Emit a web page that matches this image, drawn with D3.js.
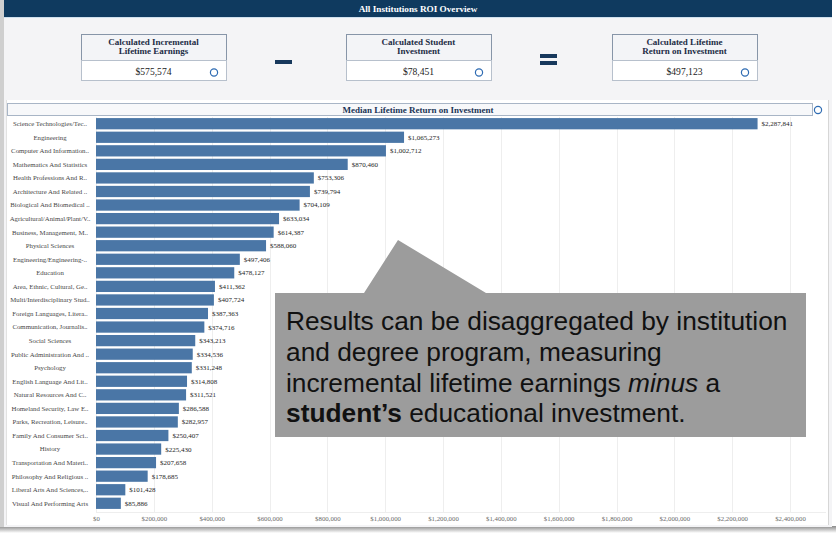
<!DOCTYPE html>
<html>
<head>
<meta charset="utf-8">
<script src="https://cdn.jsdelivr.net/npm/d3@7"></script>
<style>
  html, body { margin: 0; padding: 0; background: #ffffff; }
  svg { display: block; }
</style>
</head>
<body>
<svg id="chart" width="836" height="533"></svg>
<script>
// Programs ranked by median lifetime return on investment
const categories = [
  "Science Technologies/Tec..", "Engineering", "Computer And Information..",
  "Mathematics And Statistics", "Health Professions And R..", "Architecture And Related ..",
  "Biological And Biomedical ..", "Agricultural/Animal/Plant/V..", "Business, Management, M..",
  "Physical Sciences", "Engineering/Engineering-..", "Education",
  "Area, Ethnic, Cultural, Ge..", "Multi/Interdisciplinary Stud..", "Foreign Languages, Litera..",
  "Communication, Journalis..", "Social Sciences", "Public Administration And ..",
  "Psychology", "English Language And Lit..", "Natural Resources And C..",
  "Homeland Security, Law E..", "Parks, Recreation, Leisure..", "Family And Consumer Sci..",
  "History", "Transportation And Materi..", "Philosophy And Religious ..",
  "Liberal Arts And Sciences,..", "Visual And Performing Arts"
];
const medianROI = [
  2287841, 1065273, 1002712, 870460, 753306, 739794, 704109, 633034, 614387,
  588060, 497406, 478127, 411362, 407724, 387363, 374716, 343213, 334536,
  331248, 314808, 311521, 286588, 282957, 250407, 225430, 207658, 178685,
  101428, 85886
];
const xTicks = [0, 200000, 400000, 600000, 800000, 1000000, 1200000, 1400000,
  1600000, 1800000, 2000000, 2200000, 2400000];

// Headline figures: earnings - investment = return
const kpiTitles = [
  ["Calculated Incremental", "Lifetime Earnings"],
  ["Calculated Student", "Investment"],
  ["Calculated Lifetime", "Return on Investment"]
];
const kpiValues = [575574, 78451, 497123];

const serif = "'Liberation Serif', 'DejaVu Serif', serif";
const sans = "'Liberation Sans', Arial, sans-serif";
const navy = "#0f3a5f";
const money = d3.format("$,.0f");

const svg = d3.select("#chart");

// page frame, left rule and bottom shadow
const defs = svg.append("defs");
const sh = defs.append("linearGradient").attr("id", "shadowB").attr("x1", 0).attr("y1", 0).attr("x2", 0).attr("y2", 1);
sh.append("stop").attr("offset", "0%").attr("stop-color", "#8a8a8a");
sh.append("stop").attr("offset", "100%").attr("stop-color", "#ffffff");
svg.append("rect").attr("x", 0).attr("y", 526).attr("width", 836).attr("height", 7).attr("fill", "url(#shadowB)");
svg.append("rect").attr("x", 0).attr("y", 0).attr("width", 4).attr("height", 527).attr("fill", "#cfcfcf");
svg.append("rect").attr("x", 4).attr("y", 0).attr("width", 828).attr("height", 527).attr("fill", "#f4f4f6");
svg.append("rect").attr("x", 6).attr("y", 100).attr("width", 822).attr("height", 425).attr("fill", "#ffffff");
svg.append("line").attr("x1", 828.5).attr("x2", 828.5).attr("y1", 100).attr("y2", 525).attr("stroke", "#d6d6d6");
svg.append("line").attr("x1", 6.5).attr("x2", 6.5).attr("y1", 100).attr("y2", 525).attr("stroke", "#e2e2e2");

// header bar
svg.append("rect").attr("x", 4).attr("y", 0).attr("width", 828).attr("height", 17).attr("fill", navy);
svg.append("line").attr("x1", 4).attr("x2", 832).attr("y1", 17.5).attr("y2", 17.5).attr("stroke", "#cfe0ee");
svg.append("text").attr("x", 418).attr("y", 12).attr("text-anchor", "middle")
  .attr("font-family", serif).attr("font-weight", "bold").attr("font-size", 9.2)
  .attr("fill", "#ffffff").text("All Institutions ROI Overview");

// KPI cards
const cardX = [81, 346, 612];
const cardW = 145;
cardX.forEach((x0, i) => {
  const g = svg.append("g").attr("transform", `translate(${x0},34)`);
  g.append("rect").attr("x", 0.5).attr("y", 0.5).attr("width", cardW).attr("height", 26)
    .attr("fill", "#f3f4f7").attr("stroke", "#8795a8");
  g.append("rect").attr("x", 0.5).attr("y", 26.5).attr("width", cardW).attr("height", 20)
    .attr("fill", "#ffffff").attr("stroke", "#b7c0cc");
  kpiTitles[i].forEach((t, j) => {
    g.append("text").attr("x", cardW / 2).attr("y", 10.5 + j * 9.5).attr("text-anchor", "middle")
      .attr("font-family", serif).attr("font-weight", "bold").attr("font-size", 9)
      .attr("fill", "#1d2c45").text(t);
  });
  g.append("text").attr("x", cardW / 2).attr("y", 40.5).attr("text-anchor", "middle")
    .attr("font-family", serif).attr("font-size", 9.6).attr("fill", "#222").text(money(kpiValues[i]));
  g.append("circle").attr("cx", 133).attr("cy", 38.5).attr("r", 3.6)
    .attr("fill", "#ffffff").attr("stroke", "#2f6cb3").attr("stroke-width", 1.2);
});

// operators between cards
svg.append("rect").attr("x", 275).attr("y", 60).attr("width", 17).attr("height", 4).attr("fill", "#17385c");
svg.append("rect").attr("x", 540).attr("y", 54).attr("width", 17).attr("height", 4).attr("fill", "#17385c");
svg.append("rect").attr("x", 540).attr("y", 61).attr("width", 17).attr("height", 4).attr("fill", "#17385c");

// chart title bar
svg.append("rect").attr("x", 7.5).attr("y", 103.5).attr("width", 805).attr("height", 12)
  .attr("fill", "#f7f8fa").attr("stroke", "#a8b5c6");
svg.append("text").attr("x", 418).attr("y", 112.7).attr("text-anchor", "middle")
  .attr("font-family", serif).attr("font-weight", "bold").attr("font-size", 9)
  .attr("fill", "#1b3456").text("Median Lifetime Return on Investment");
svg.append("circle").attr("cx", 818).attr("cy", 110).attr("r", 3.6)
  .attr("fill", "#ffffff").attr("stroke", "#2f6cb3").attr("stroke-width", 1.2);

// scales
const x = d3.scaleLinear().domain([0, 2400000]).range([96, 790]);
const y = d3.scaleBand().domain(categories).range([117, 510]).paddingInner(0.17).paddingOuter(0.08);

// vertical gridlines
svg.append("g").selectAll("line").data(xTicks).join("line")
  .attr("x1", d => Math.round(x(d)) + 0.5).attr("x2", d => Math.round(x(d)) + 0.5)
  .attr("y1", 117).attr("y2", 512)
  .attr("stroke", "#eeeeee");
svg.append("line").attr("x1", 96).attr("x2", 826).attr("y1", 512.5).attr("y2", 512.5).attr("stroke", "#eeeeee");

// x-axis labels
const xAxis = d3.axisBottom(x).tickValues(xTicks).tickFormat(money).tickSize(0).tickPadding(0);
const ax = svg.append("g").attr("transform", "translate(0,516)").call(xAxis);
ax.select(".domain").remove();
ax.selectAll("text").attr("font-family", serif).attr("font-size", 6.8).attr("fill", "#6b6b6b").attr("dy", "0.71em");

// bars
const data = categories.map((c, i) => ({ c, v: medianROI[i] }));
svg.append("g").selectAll("rect").data(data).join("rect")
  .attr("x", x(0)).attr("y", d => y(d.c))
  .attr("width", d => x(d.v) - x(0)).attr("height", y.bandwidth())
  .attr("fill", "#4a76a6");

// value labels
svg.append("g").selectAll("text").data(data).join("text")
  .attr("x", d => x(d.v) + 4).attr("y", d => y(d.c) + y.bandwidth() / 2)
  .attr("dy", "0.35em")
  .attr("font-family", serif).attr("font-size", 7).attr("fill", "#1e1e1e")
  .text(d => money(d.v));

// category labels
svg.append("g").selectAll("text").data(data).join("text")
  .attr("x", 50).attr("y", d => y(d.c) + y.bandwidth() / 2)
  .attr("dy", "0.35em").attr("text-anchor", "middle")
  .attr("font-family", serif).attr("font-size", 6.8).attr("fill", "#474747")
  .text(d => d.c);

// annotation callout
const call = svg.append("g");
call.append("path")
  .attr("d", "M275,293 L364,293 L398,240 L486,293 L806,293 L806,437 L275,437 Z")
  .attr("fill", "#9c9c9c");
const lines = [
  [{ t: "Results can be disaggregated by institution" }],
  [{ t: "and degree program, measuring" }],
  [{ t: "incremental lifetime earnings " }, { t: "minus", i: true }, { t: " a" }],
  [{ t: "student\u2019s", b: true }, { t: " educational investment." }]
];
lines.forEach((parts, k) => {
  const tx = call.append("text").attr("x", 286).attr("y", 330 + k * 30.8)
    .attr("font-family", sans).attr("font-size", 26.3).attr("fill", "#111111");
  parts.forEach(p => {
    tx.append("tspan")
      .attr("font-style", p.i ? "italic" : null)
      .attr("font-weight", p.b ? "bold" : null)
      .text(p.t);
  });
});
</script>
</body>
</html>
